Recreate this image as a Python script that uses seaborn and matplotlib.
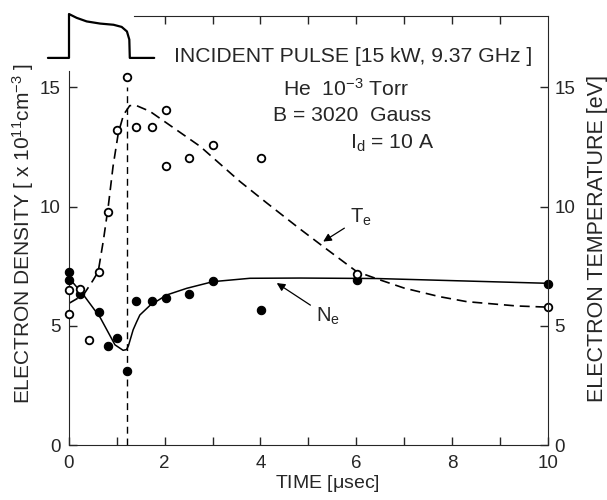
import numpy as np
import matplotlib
matplotlib.use("Agg")
import matplotlib.pyplot as plt
import seaborn as sns

# --- data ---
# electron temperature (open circles), time in usec, Te in eV
te_t = [0, 0, 0.22, 0.42, 0.62, 0.81, 1.01, 1.22, 1.41, 1.73, 2.02, 2.02, 2.51, 3.01, 4.01, 6.01, 10.0]
te_v = [6.48, 5.50, 6.53, 4.39, 7.26, 9.79, 13.19, 15.41, 13.34, 13.34, 14.06, 11.68, 12.04, 12.56, 12.04, 7.18, 5.78]

# electron density (filled circles), x 1e11 cm^-3
ne_t = [0, 0, 0.22, 0.62, 0.81, 1.01, 1.22, 1.41, 1.73, 2.02, 2.51, 3.01, 4.01, 6.01, 10.0]
ne_v = [7.25, 6.92, 6.32, 5.56, 4.13, 4.48, 3.12, 6.02, 6.02, 6.18, 6.32, 6.86, 5.66, 6.92, 6.74]

# fitted curves (traced)
te_curve_t = [0, 0.3, 0.5, 0.61, 0.72, 0.82, 0.92, 1.03, 1.14, 1.27, 1.41, 1.69, 2.04, 2.74,
              3.57, 4.13, 4.83, 5.31, 6.01, 6.5, 7.0, 7.74, 8.31, 9.35, 10.0]
te_curve_v = [5.94, 6.29, 6.9, 7.27, 8.6, 10.0, 11.68, 13.08, 13.85, 14.23, 14.23, 13.99, 13.5, 12.52,
              11.05, 10.15, 9.05, 8.32, 7.27, 6.92, 6.58, 6.22, 6.01, 5.83, 5.78]

ne_curve_t = [0, 0.3, 0.65, 0.96, 1.13, 1.2, 1.24, 1.34, 1.41, 1.48, 1.69, 2.04, 2.46, 3.01,
              3.78, 4.83, 6.43, 10.0]
ne_curve_v = [7.0, 6.3, 5.35, 4.2, 3.97, 4.0, 4.15, 4.83, 5.15, 5.45, 5.85, 6.29, 6.57, 6.85,
              6.99, 7.0, 6.98, 6.78]

# incident microwave pulse trace (drawn above the axes)
pulse_t = [-0.44, 0, 0, 0.16, 0.37, 0.65, 0.93, 1.10, 1.21, 1.26, 1.27, 1.78]
pulse_v = [16.23, 16.23, 18.07, 17.91, 17.76, 17.67, 17.62, 17.53, 17.34, 17.0, 16.23, 16.23]

pulse_end = 1.22

sns.set_style("ticks")
plt.rcParams["font.family"] = ["Liberation Sans", "DejaVu Sans"]
plt.rcParams["mathtext.default"] = "regular"

fig = plt.figure(figsize=(6.07, 5), dpi=100)
ax = fig.add_axes([69 / 607, 55 / 500, 478.7 / 607, 429.3 / 500])

# curves
sns.lineplot(x=te_curve_t, y=te_curve_v, ax=ax, sort=False, estimator=None,
             color="black", lw=1.2, linestyle=(0, (6, 3.5)))
sns.lineplot(x=ne_curve_t, y=ne_curve_v, ax=ax, sort=False, estimator=None,
             color="black", lw=1.1)

# points
sns.scatterplot(x=ne_t, y=ne_v, ax=ax, marker="o", s=36, color="black",
                edgecolor="black", linewidth=0.8, zorder=4, clip_on=False)
sns.scatterplot(x=te_t, y=te_v, ax=ax, marker="o", s=30, facecolor="white",
                edgecolor="black", linewidth=1.3, zorder=5, clip_on=False)

# pulse end marker and pulse trace
ax.plot([pulse_end, pulse_end], [0, 15.0], color="black", lw=1.0,
        linestyle=(0, (5, 3.5)))
ax.plot(pulse_t, pulse_v, color="black", lw=1.6, clip_on=False,
        solid_joinstyle="round")

ax.set_xlim(0, 10)
ax.set_ylim(0, 18)
ax.set_xticks([0, 2, 4, 6, 8, 10])
ax.set_xticks(range(1, 10, 2), minor=True)
ax.set_yticks([0, 5, 10, 15])
ax.tick_params(axis="both", which="both", direction="in", length=6, width=1,
               labelsize=13.5)
ax.tick_params(axis="x", pad=7)
ax.tick_params(axis="y", pad=6)

ax.spines["left"].set_bounds(0, 15.7)
ax.spines["right"].set_visible(False)
ax.spines["top"].set_visible(False)

# top spine only right of the pulse, ticks 2..9
top = ax.secondary_xaxis("top")
top.set_xticks(range(2, 10))
top.tick_params(direction="in", length=6, width=1, labeltop=False)
top.spines["top"].set_bounds(1.36, 10)

ax2 = ax.twinx()
ax2.set_ylim(0, 18)
ax2.set_yticks([0, 5, 10, 15])
ax2.tick_params(axis="y", direction="in", length=6, width=1, labelsize=13.5, pad=5)
for s in ["left", "top", "bottom"]:
    ax2.spines[s].set_visible(False)

ax.set_xlabel("TIME [$\\mu$sec]", fontsize=14)
ax.xaxis.set_label_coords(0.54, -0.066)
ax.set_ylabel("ELECTRON DENSITY [ x 10$^{11}$cm$^{-3}$ ]", fontsize=15)
ax.yaxis.set_label_coords(-0.069, 0.493)
ax2.set_ylabel("ELECTRON TEMPERATURE [eV]", fontsize=15.5)
ax2.yaxis.set_label_coords(1.082, 0.481)

# annotations
ax.text(2.2, 16.3, "INCIDENT PULSE [15 kW, 9.37 GHz ]", fontsize=15.2,
        ha="left", va="center")
ax.text(4.47, 14.95, "He  10$^{-3}$ Torr", fontsize=15.2, ha="left", va="center")
ax.text(4.26, 13.8, "B = 3020  Gauss", fontsize=15.2, ha="left", va="center")
ax.text(5.87, 12.65, "I$_d$ = 10 A", fontsize=15.2, ha="left", va="center")

ax.annotate("T$_e$", xy=(5.31, 8.53), xytext=(5.87, 9.53), fontsize=14.5,
            ha="left", va="center",
            arrowprops=dict(arrowstyle="-|>", color="black", lw=0.9,
                            shrinkA=2, shrinkB=0, mutation_scale=12))
ax.annotate("N$_e$", xy=(4.34, 6.79), xytext=(5.16, 5.38), fontsize=14.5,
            ha="left", va="center",
            arrowprops=dict(arrowstyle="-|>", color="black", lw=0.9,
                            shrinkA=2, shrinkB=0, mutation_scale=12))

fig.savefig("out.png", dpi=100)
